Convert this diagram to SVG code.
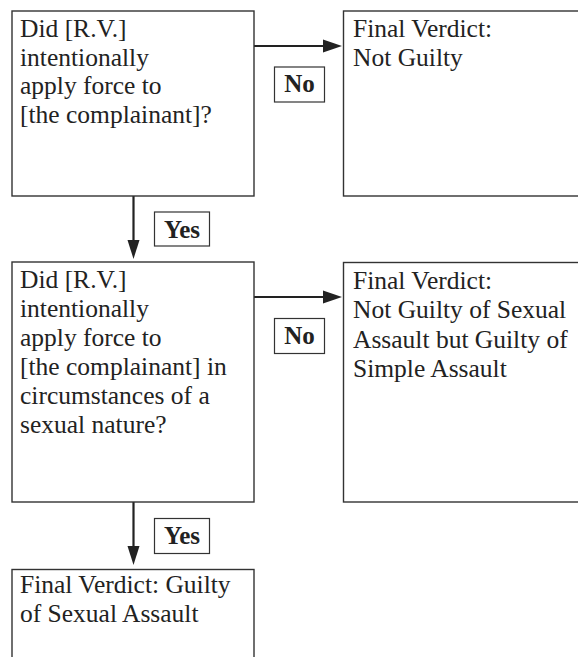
<svg xmlns="http://www.w3.org/2000/svg" width="578" height="657" viewBox="0 0 578 657">
<style>
.box{fill:#fff;stroke:#333;stroke-width:1.4}
.lbl{fill:#fff;stroke:#333;stroke-width:1.2}
.t{font-family:"Liberation Serif","Times New Roman",serif;font-size:25.5px;fill:#222}
.b{font-family:"Liberation Serif","Times New Roman",serif;font-size:25px;font-weight:bold;fill:#222;text-anchor:middle}
.line{stroke:#222;stroke-width:2.2;fill:none}
.head{fill:#222}
</style>
<rect width="578" height="657" fill="#fff"/>
<g id="connectors">
<line class="line" x1="254" y1="46" x2="326" y2="46"/>
<polygon class="head" points="342,46 323,39.5 323,52.5"/>
<line class="line" x1="254" y1="297" x2="326" y2="297"/>
<polygon class="head" points="342,297 323,290.5 323,303.5"/>
<line class="line" x1="133.5" y1="196" x2="133.5" y2="242"/>
<polygon class="head" points="133.5,259 127.5,240 139.5,240"/>
<line class="line" x1="133.5" y1="502" x2="133.5" y2="548"/>
<polygon class="head" points="133.5,565 127.5,546 139.5,546"/>
<g id="label-no-1"><rect class="lbl" x="274.5" y="67" width="50" height="35"/><text class="b" x="299.5" y="92">No</text></g>
<g id="label-no-2"><rect class="lbl" x="274.5" y="318.5" width="50" height="35"/><text class="b" x="299.5" y="343.5">No</text></g>
<g id="label-yes-1"><rect class="lbl" x="154.5" y="212" width="55" height="34"/><text class="b" x="182" y="237.5">Yes</text></g>
<g id="label-yes-2"><rect class="lbl" x="154.5" y="518.5" width="55" height="35"/><text class="b" x="182" y="544">Yes</text></g>
</g>
<g id="q1">
<rect class="box" x="12" y="11" width="242" height="185"/>
<text class="t" x="20" y="37">Did [R.V.]</text>
<text class="t" x="20" y="65.5">intentionally</text>
<text class="t" x="20" y="94">apply force to</text>
<text class="t" x="20" y="122.5">[the complainant]?</text>
</g>
<g id="v1">
<rect class="box" x="343.5" y="11" width="250" height="185"/>
<text class="t" x="353" y="37">Final Verdict:</text>
<text class="t" x="353" y="66">Not Guilty</text>
</g>
<g id="q2">
<rect class="box" x="12" y="262" width="242" height="240"/>
<text class="t" x="20" y="288">Did [R.V.]</text>
<text class="t" x="20" y="317">intentionally</text>
<text class="t" x="20" y="346">apply force to</text>
<text class="t" x="20" y="375">[the complainant] in</text>
<text class="t" x="20" y="404">circumstances of a</text>
<text class="t" x="20" y="433">sexual nature?</text>
</g>
<g id="v2">
<rect class="box" x="343.5" y="262.5" width="250" height="239.5"/>
<text class="t" x="353" y="288.5">Final Verdict:</text>
<text class="t" x="353" y="318">Not Guilty of Sexual</text>
<text class="t" x="353" y="347.5">Assault but Guilty of</text>
<text class="t" x="353" y="377">Simple Assault</text>
</g>
<g id="v3">
<rect class="box" x="12" y="569.5" width="242" height="100"/>
<text class="t" x="20" y="593">Final Verdict: Guilty</text>
<text class="t" x="20" y="622">of Sexual Assault</text>
</g>
</svg>
